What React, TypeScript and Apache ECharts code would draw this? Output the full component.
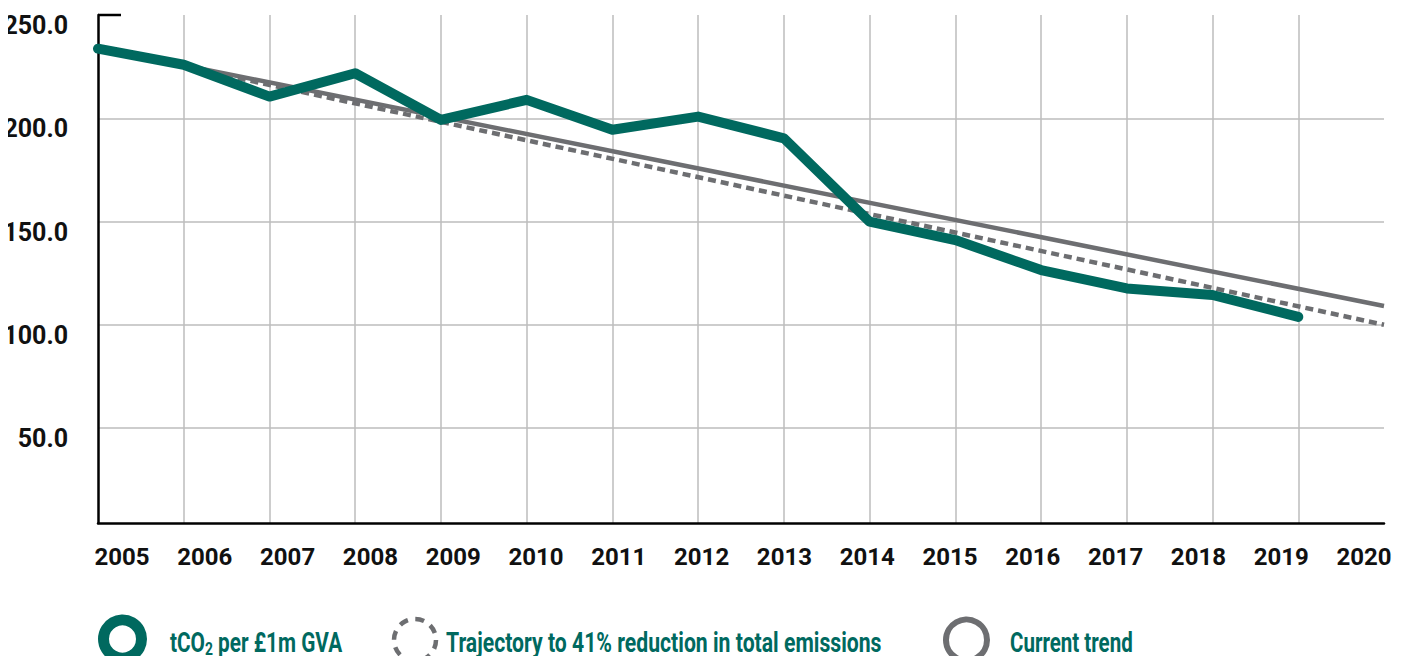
import React, { useEffect, useRef } from "react";
import * as echarts from "echarts";

// Years on the horizontal axis
const years = ["2005", "2006", "2007", "2008", "2009", "2010", "2011", "2012", "2013", "2014", "2015", "2016", "2017", "2018", "2019", "2020"];

// Carbon intensity, tCO2 per £1m GVA
const intensity = [233.7, 225.9, 210.5, 221.8, 199.2, 208.9, 194.4, 200.8, 190.3, 149.9, 141.0, 126.5, 117.6, 114.4, 103.8, null];

// Straight-line references: only the end points are known, joined across the gaps
const trajectory = [234, null, null, null, null, null, null, null, null, null, null, null, null, null, null, 100];
const currentTrend = [234, null, null, null, null, null, null, null, null, null, null, null, null, null, null, 109.1];

// Y-axis range
const yMin = 4;
const yMax = 250;

const TEAL = "#00695f";
const GREY = "#6d6e71";
const GRID = "#bcbcbc";
const FONT = "Roboto, 'Liberation Sans', sans-serif";

export default function App() {
  const ref = useRef<HTMLDivElement>(null);

  useEffect(() => {
    if (!ref.current) return;
    const chart = echarts.init(ref.current, null, { renderer: "svg" });

    const option: any = {
      animation: false,
      backgroundColor: "#ffffff",
      grid: [
        // plot area
        { left: 98, right: 24, top: 15, bottom: 141, containLabel: false, outerBoundsMode: "none" },
        // year labels sit on their own, slightly narrower band
        { left: 122, right: 44, top: 15, bottom: 141, containLabel: false, outerBoundsMode: "none" },
      ],
      xAxis: [
        {
          type: "category",
          gridIndex: 0,
          data: years,
          boundaryGap: false,
          axisLine: { show: true, lineStyle: { color: "#000", width: 2.5 } },
          axisTick: { show: false },
          axisLabel: { show: false },
          splitLine: { show: true, showMinLine: false, showMaxLine: false, lineStyle: { color: GRID, width: 1.5 } },
        },
        {
          type: "category",
          gridIndex: 1,
          data: years,
          boundaryGap: false,
          axisLine: { show: false },
          axisTick: { show: false },
          splitLine: { show: false },
          axisLabel: {
            interval: 0,
            color: "#111",
            fontFamily: FONT,
            fontWeight: "bold",
            fontSize: 24,
            margin: 22,
          },
        },
      ],
      yAxis: [
        {
          type: "value",
          gridIndex: 0,
          min: yMin,
          max: yMax,
          splitNumber: 5,
          axisLine: { show: true, lineStyle: { color: "#000", width: 2.5 } },
          axisTick: { show: false },
          axisLabel: {
            color: "#111",
            fontFamily: FONT,
            fontWeight: "bold",
            fontSize: 25,
            margin: 30,
            verticalAlign: "top",
            lineHeight: 25,
            padding: [-2, 0, 0, 0],
            formatter: (v: number) => (v < 50 ? "" : v.toFixed(1)),
          },
          splitLine: { show: true, showMinLine: false, showMaxLine: false, lineStyle: { color: GRID, width: 1.5 } },
        },
        { type: "value", gridIndex: 1, min: yMin, max: yMax, show: false },
      ],
      series: [
        {
          name: "Current trend",
          type: "line",
          data: currentTrend,
          connectNulls: true,
          showSymbol: false,
          symbol: "none",
          lineStyle: { color: GREY, width: 4.5 },
          z: 2,
        },
        {
          name: "Trajectory to 41% reduction in total emissions",
          type: "line",
          data: trajectory,
          connectNulls: true,
          showSymbol: false,
          symbol: "none",
          lineStyle: { color: GREY, width: 4.5, type: [8, 5] },
          z: 3,
        },
        {
          name: "tCO2 per £1m GVA",
          type: "line",
          data: intensity,
          showSymbol: false,
          symbol: "none",
          lineStyle: { color: TEAL, width: 10, cap: "round", join: "round" },
          z: 4,
        },
      ],
    };
    chart.setOption(option);

    // Short cap tick at the top of the y axis, placed from the axis scale
    const top = chart.convertToPixel({ gridIndex: 0 }, [0, yMax]) as number[];

    // Legend labels use a horizontally narrowed bold face
    const legendText = (x: number, text: string, sx: number, rich?: any) => ({
      type: "text",
      x,
      y: 643,
      scaleX: sx,
      style: {
        text,
        fill: TEAL,
        fontFamily: FONT,
        fontWeight: "bold",
        fontSize: 27,
        verticalAlign: "middle",
        align: "left",
        rich,
      },
    });

    chart.setOption({
      graphic: [
        {
          type: "line",
          shape: { x1: top[0], y1: top[1], x2: top[0] + 23, y2: top[1] },
          style: { stroke: "#000", lineWidth: 2.5 },
        },
        {
          type: "circle",
          shape: { cx: 122.5, cy: 639, r: 19 },
          style: { fill: "none", stroke: TEAL, lineWidth: 11 },
        },
        legendText(170, "{a|tCO}{s|2}{a| per £1m GVA}", 0.77, {
          a: { fill: TEAL, fontFamily: FONT, fontWeight: "bold", fontSize: 27 },
          s: { fill: TEAL, fontFamily: FONT, fontWeight: "bold", fontSize: 18, padding: [12, 0, 0, 0] },
        }),
        {
          type: "circle",
          shape: { cx: 415, cy: 640, r: 21 },
          style: { fill: "none", stroke: GREY, lineWidth: 4.5, lineDash: [9, 7.5] },
        },
        legendText(446, "Trajectory to 41% reduction in total emissions", 0.785),
        {
          type: "circle",
          shape: { cx: 966.5, cy: 640, r: 20.5 },
          style: { fill: "none", stroke: GREY, lineWidth: 6 },
        },
        legendText(1010, "Current trend", 0.76),
      ],
    });

    return () => chart.dispose();
  }, []);

  return <div ref={ref} style={{ width: 1408, height: 664, margin: -8 }} />;
}
